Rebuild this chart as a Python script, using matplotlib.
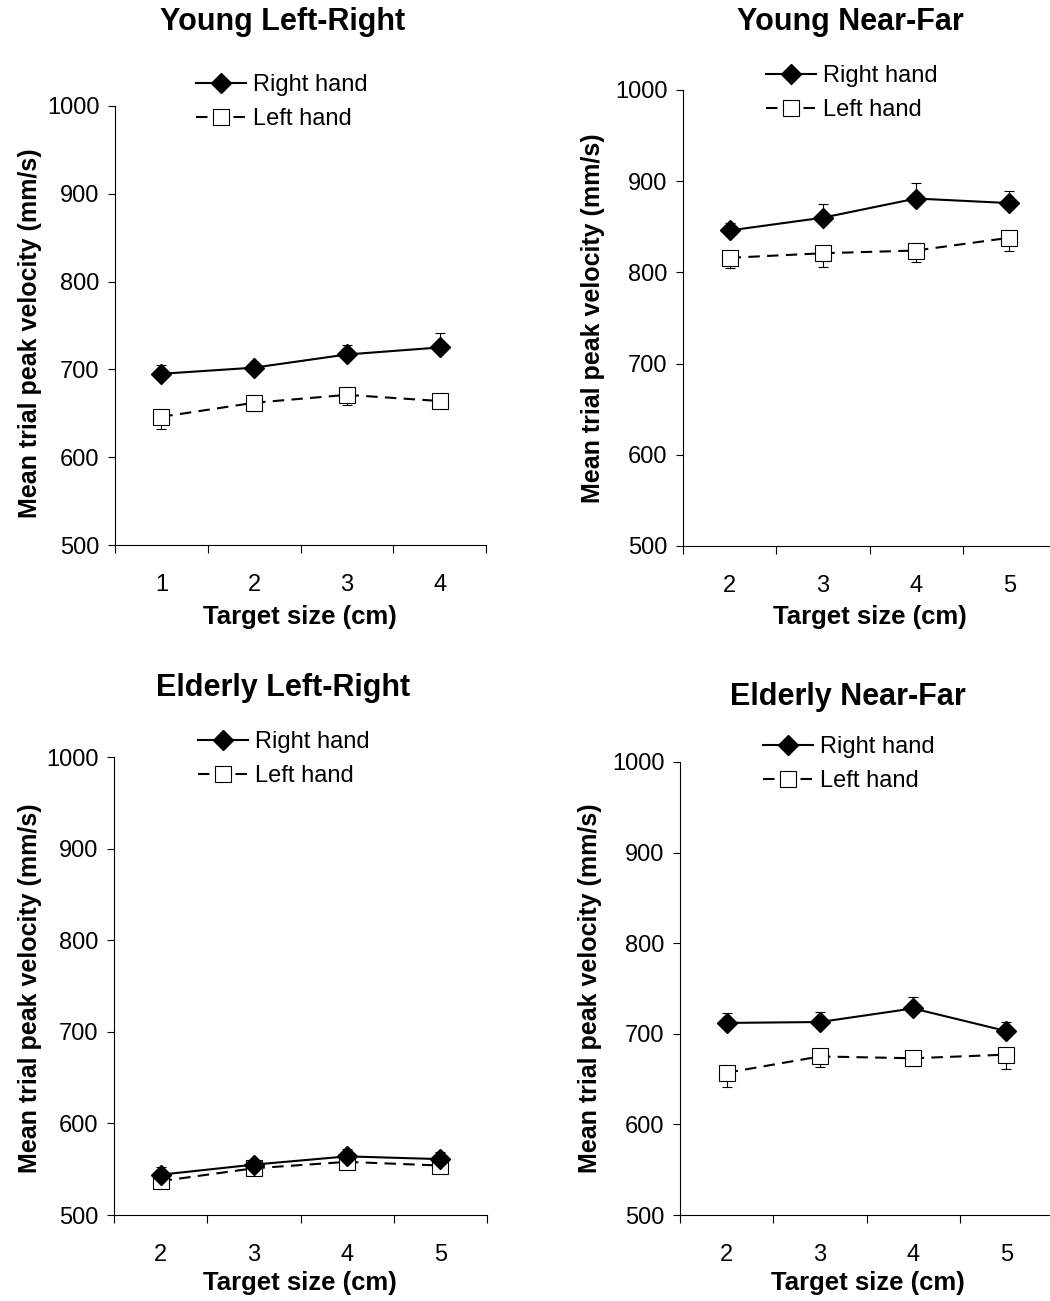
import matplotlib
matplotlib.use("Agg")
import matplotlib.pyplot as plt
import numpy as np

plt.rcParams['font.family'] = ['Liberation Sans', 'DejaVu Sans']

W, H = 1050, 1301

# ---- data ----
titles = ["Young Left-Right", "Young Near-Far", "Elderly Left-Right", "Elderly Near-Far"]
cats_yl = ["1", "2", "3", "4"]
cats_yn = ["2", "3", "4", "5"]
cats_el = ["2", "3", "4", "5"]
cats_en = ["2", "3", "4", "5"]

right_yl = [695, 702, 717, 725]
right_yl_err = [10, 5, 11, 16]
left_yl = [646, 662, 671, 664]
left_yl_err = [14, 9, 12, 8]

right_yn = [846, 860, 881, 876]
right_yn_err = [8, 15, 17, 13]
left_yn = [816, 821, 824, 838]
left_yn_err = [11, 15, 13, 14]

right_el = [544, 555, 564, 561]
right_el_err = [8, 5, 8, 8]
left_el = [537, 551, 558, 554]
left_el_err = [5, 4, 5, 5]

right_en = [712, 713, 728, 703]
right_en_err = [11, 11, 13, 10]
left_en = [657, 675, 673, 677]
left_en_err = [16, 12, 9, 16]

yticks = [500, 600, 700, 800, 900, 1000]

panels = [
    dict(cats=cats_yl, r=right_yl, re=right_yl_err, l=left_yl, le=left_yl_err,
         box=(115, 106, 486, 545), title=(283, 22), ylab=(30, 333), xlab=(300, 617), leg=(196, 74)),
    dict(cats=cats_yn, r=right_yn, re=right_yn_err, l=left_yn, le=left_yn_err,
         box=(683, 90, 1056, 546), title=(850, 22), ylab=(593, 318), xlab=(870, 617), leg=(766, 65)),
    dict(cats=cats_el, r=right_el, re=right_el_err, l=left_el, le=left_el_err,
         box=(114, 757, 487, 1215), title=(283, 688), ylab=(30, 988), xlab=(300, 1283), leg=(198, 731)),
    dict(cats=cats_en, r=right_en, re=right_en_err, l=left_en, le=left_en_err,
         box=(680, 762, 1053, 1215), title=(848, 697), ylab=(590, 988), xlab=(868, 1283), leg=(763, 736)),
]

fig = plt.figure(figsize=(W / 100, H / 100), dpi=100)

def fx(px):
    return px / W

def fy(py):
    return 1 - py / H

for i, p in enumerate(panels):
    x0, y0, x1, y1 = p["box"]
    ax = fig.add_axes([fx(x0), fy(y1), (x1 - x0) / W, (y1 - y0) / H])
    n = len(p["cats"])
    x = np.arange(n)

    # error bars: right hand upward, left hand downward
    ax.errorbar(x, p["r"], yerr=[np.zeros(n), p["re"]], fmt='none', ecolor='black',
                elinewidth=0.8, capsize=3.5, capthick=0.8, zorder=2, clip_on=False)
    ax.errorbar(x, p["l"], yerr=[p["le"], np.zeros(n)], fmt='none', ecolor='black',
                elinewidth=0.8, capsize=3.5, capthick=0.8, zorder=2, clip_on=False)

    ax.plot(x, p["l"], color='black', lw=1.5, linestyle=(0, (5.5, 3.5)),
            marker='s', ms=11.5, mfc='white', mec='black', mew=0.8,
            label='Left hand', zorder=3, clip_on=False)
    ax.plot(x, p["r"], color='black', lw=1.5, linestyle='-',
            marker='D', ms=10, mfc='black', mec='black',
            label='Right hand', zorder=4, clip_on=False)

    ax.set_xlim(-0.5, n - 0.5)
    ax.set_ylim(500, 1000)
    ax.set_yticks(yticks)
    ax.set_yticklabels([str(v) for v in yticks], fontsize=17)
    ax.set_xticks(np.arange(n + 1) - 0.5)
    ax.set_xticklabels([])
    ax.set_xticks(x, minor=True)
    ax.set_xticklabels(p["cats"], minor=True, fontsize=17)
    ax.tick_params(axis='x', which='major', direction='out', length=6, width=0.8)
    ax.tick_params(axis='x', which='minor', length=0, pad=21)
    ax.tick_params(axis='y', direction='out', length=5, width=0.8, pad=6)
    for s in ['top', 'right']:
        ax.spines[s].set_visible(False)
    for s in ['left', 'bottom']:
        ax.spines[s].set_linewidth(0.8)
    ax.patch.set_alpha(0)

    handles, labels = ax.get_legend_handles_labels()
    lx, ly = p["leg"]
    ax.legend(handles[::-1], labels[::-1], loc='upper left',
              bbox_to_anchor=(fx(lx), fy(ly)), bbox_transform=fig.transFigure,
              frameon=False, fontsize=17, handlelength=2.1, handletextpad=0.3,
              borderpad=0, borderaxespad=0, labelspacing=0.5)

    fig.text(fx(p["title"][0]), fy(p["title"][1]), titles[i], fontsize=22,
             fontweight='bold', ha='center', va='center')
    fig.text(fx(p["ylab"][0]), fy(p["ylab"][1]), "Mean trial peak velocity (mm/s)",
             fontsize=18, fontweight='bold', rotation=90, ha='center', va='center')
    fig.text(fx(p["xlab"][0]), fy(p["xlab"][1]), "Target size (cm)", fontsize=18.5,
             fontweight='bold', ha='center', va='center')

fig.savefig("out.png", dpi=100)
